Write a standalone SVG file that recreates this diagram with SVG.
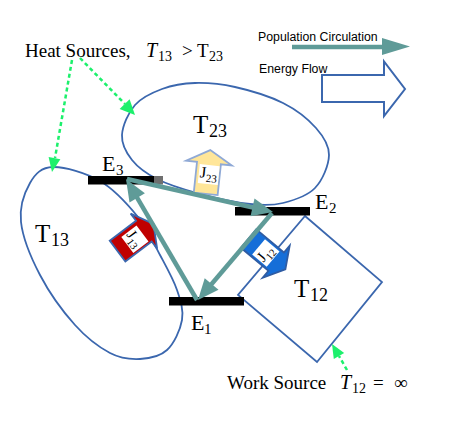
<svg xmlns="http://www.w3.org/2000/svg" width="458" height="441" viewBox="0 0 458 441">
<style>
.region{fill:none;stroke:#3b67ae;stroke-width:1.8}
.bar{fill:#000}
.teal{stroke:#5f9b98;stroke-width:4.5;fill:none}
.tealhead{fill:#5f9b98}
.green{stroke:#1cf06c;stroke-width:2.5;stroke-dasharray:4 3;fill:none}
.greenhead{fill:#1cf06c}
.serif{font-family:"Liberation Serif","Times New Roman",serif;fill:#000}
.sans{font-family:"Liberation Sans",Arial,sans-serif;fill:#000;font-size:12.3px}
.it{font-style:italic}
</style>
<rect width="458" height="441" fill="#fff"/>

<g id="T23">
<path class="region" d="M122,135 C122.5,125.8 128.3,112.7 135,105 C141.7,97.3 152,92.7 162,89 C172,85.3 182.8,83.3 195,83 C207.2,82.7 220.3,83.7 235,87 C249.7,90.3 269.5,96.2 283,103 C296.5,109.8 308.3,119.3 316,128 C323.7,136.7 329.2,145 329,155 C328.8,165 322.7,180 315,188 C307.3,196 293.8,200.3 283,203 C272.2,205.7 264.3,205.7 250,204 C235.7,202.3 212.5,197.2 197,193 C181.5,188.8 167.8,184.5 157,179 C146.2,173.5 137.8,167.3 132,160 C126.2,152.7 121.5,144.2 122,135 Z"/>
<text class="serif" x="193" y="133" font-size="25">T</text>
<text class="serif" x="209" y="137" font-size="18">23</text>
</g>

<g id="T13">
<path class="region" d="M53,167 C64.7,166.7 85.8,172.7 100,181 C114.2,189.3 128,204.7 138,217 C148,229.3 153.5,242.8 160,255 C166.5,267.2 173.3,279.2 177,290 C180.7,300.8 183.7,310 182,320 C180.3,330 174,343.5 167,350 C160,356.5 149.5,358.5 140,359 C130.5,359.5 120.8,358.7 110,353 C99.2,347.3 86.7,338 75,325 C63.3,312 49,292.2 40,275 C31,257.8 22.7,237.3 21,222 C19.3,206.7 24.7,192.2 30,183 C35.3,173.8 41.3,167.3 53,167 Z"/>
<text class="serif" x="35" y="242" font-size="25">T</text>
<text class="serif" x="51" y="246" font-size="18">13</text>
</g>

<g id="T12">
<polygon class="region" points="305,216 382,282 317,362 238,295"/>
<text class="serif" x="294" y="297" font-size="25">T</text>
<text class="serif" x="310" y="301" font-size="18">12</text>
</g>

<g id="E3">
<rect class="bar" x="88" y="176" width="66" height="8.5"/>
<rect x="154" y="176" width="9" height="8.5" fill="#6f6f6f"/>
<text class="serif" x="102" y="171" font-size="22">E</text>
<text class="serif" x="116" y="175" font-size="15">3</text>
</g>

<g id="E2">
<rect class="bar" x="235" y="207" width="75" height="8.5"/>
<text class="serif" x="315" y="209" font-size="22">E</text>
<text class="serif" x="329" y="213" font-size="15">2</text>
</g>

<g id="E1">
<rect class="bar" x="169" y="297" width="75" height="8.5"/>
<text class="serif" x="191" y="330" font-size="22">E</text>
<text class="serif" x="204" y="334" font-size="15">1</text>
</g>

<g id="J23" transform="translate(208,172) rotate(6)">
<path d="M-12,22 L-12,-9 L-23,-9 L0,-22 L23,-9 L12,-9 L12,22 Z" fill="#ffe699" stroke="#8fa9d6" stroke-width="1.8"/>
<rect x="-9" y="-7" width="20" height="19" fill="#fff"/>
<text class="serif" x="-8" y="6" font-size="16">J</text>
<text class="serif" x="-1.5" y="10" font-size="11">23</text>
</g>

<g id="J13" transform="translate(135.5,237.5) rotate(53)">
<path d="M-13,22.5 L-13,-10.5 L-22,-10.5 L0,-22.5 L22,-10.5 L13,-10.5 L13,22.5 Z" fill="#c00000" stroke="#3b67ae" stroke-width="1.8"/>
<rect x="-9" y="-8" width="20" height="19" fill="#fff"/>
<text class="serif" x="-8" y="6" font-size="15">J</text>
<text class="serif" x="-2" y="10" font-size="10.5">13</text>
</g>

<g id="J12" transform="translate(267,254) rotate(130)">
<path d="M-12,24 L-12,-12 L-21,-12 L0,-24 L21,-12 L12,-12 L12,24 Z" fill="#156ed8" stroke="#2f5ca3" stroke-width="1.8"/>
<g transform="rotate(180)">
<rect x="-10" y="-11" width="20" height="19" fill="#fff"/>
<text class="serif" x="-9" y="3" font-size="15">J</text>
<text class="serif" x="-3" y="7" font-size="10.5">12</text>
</g>
</g>

<g id="connectors">
<line class="teal" x1="127" y1="179" x2="254" y2="207.7"/>
<polygon class="tealhead" points="273,212 250.5,216.2 254.5,198.6"/>
<line class="teal" x1="272" y1="213" x2="211" y2="284.7"/>
<polygon class="tealhead" points="198,300 218.5,289.8 204.7,278.2"/>
<line class="teal" x1="197" y1="300" x2="136.5" y2="196.7"/>
<polygon class="tealhead" points="126,179 144.9,193.3 129.5,202.5"/>

<line class="green" x1="72" y1="60" x2="55" y2="158"/>
<polygon class="greenhead" points="52,172 60.4,159.3 48.6,157.1"/>
<line class="green" x1="80" y1="58" x2="125" y2="104"/>
<polygon class="greenhead" points="135,115 129.6,99.3 119.6,109.1"/>
<line class="green" x1="347" y1="370" x2="339" y2="356"/>
<polygon class="greenhead" points="332,344 344.2,353.1 333.8,359.1"/>
</g>

<g id="legend">
<text class="sans" x="258" y="40.5">Population Circulation</text>
<line x1="292" y1="47" x2="384" y2="47" stroke="#5f9b98" stroke-width="4.5"/>
<polygon points="382,38 410,46.5 382,55" fill="#5f9b98"/>
<text class="sans" x="259" y="73">Energy Flow</text>
<polygon points="322,75 384,75 384,61.5 405,89 384,116 384,102 322,102" fill="#fff" stroke="#3b67ae" stroke-width="2"/>
</g>

<g id="heat-label">
<text class="serif" x="25" y="57" font-size="19">Heat Sources,</text>
<text class="serif it" x="146" y="57" font-size="20">T</text>
<text class="serif" x="158" y="61" font-size="14">13</text>
<text class="serif" x="182" y="57" font-size="19">&gt;</text>
<text class="serif" x="197" y="57" font-size="19">T</text>
<text class="serif" x="209" y="61" font-size="14">23</text>
</g>

<g id="work-label">
<text class="serif" x="227" y="389" font-size="19">Work Source</text>
<text class="serif it" x="340" y="389" font-size="20">T</text>
<text class="serif" x="352" y="393" font-size="14">12</text>
<text class="serif" x="373" y="389" font-size="19">=</text>
<text class="serif" x="394" y="389" font-size="19">∞</text>
</g>
</svg>
